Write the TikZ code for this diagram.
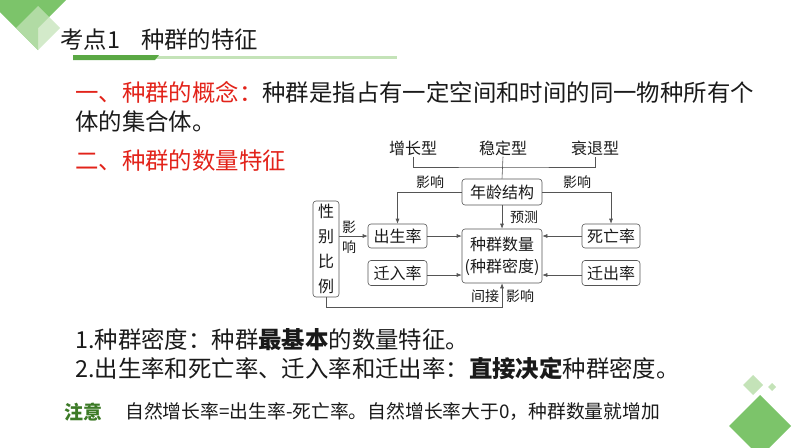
\documentclass[tikz,border=0pt]{standalone}
\usepackage{fontspec}
\setmainfont{Noto Sans CJK SC}
\usetikzlibrary{arrows.meta,positioning,calc}
\definecolor{ink}{HTML}{1A1A1A}
\definecolor{wire}{HTML}{555555}
\definecolor{redtxt}{HTML}{E2231A}
\definecolor{gdark}{HTML}{5AA844}
\definecolor{gmid}{HTML}{7CC46A}
\definecolor{glight}{HTML}{C4E3B8}
\definecolor{gnote}{HTML}{3C7A26}

\begin{document}
\begin{tikzpicture}[
  x=1pt, y=-1pt, ink,
  big/.style={font=\fontsize{23.4}{28}\selectfont, inner sep=0pt, anchor=west},
  mid/.style={font=\fontsize{23.4}{28}\selectfont, inner sep=0pt, anchor=west},
  box/.style={draw=wire, line width=0.6pt, rounded corners=3pt, inner sep=0pt,
              font=\fontsize{16}{18}\selectfont, align=center},
  word/.style={font=\fontsize{16}{18}\selectfont, inner sep=1pt},
  tag/.style={font=\fontsize{14}{16}\selectfont, inner sep=0pt, align=center},
  wr/.style={draw=wire, line width=0.6pt},
  arr/.style={-{Latex[length=5pt,width=4pt]}, draw=wire, line width=0.6pt},
]
\useasboundingbox (0,0) rectangle (794,447);
\clip (0,0) rectangle (794,447);

% ---- corner ornaments -------------------------------------------------------
\fill[gmid] (0,0) -- (66,0) -- (38,28) -- (38,50) -- (0,12) -- cycle;
\fill[glight, opacity=0.75] (38,6) -- (60,28) -- (38,50) -- (16,28) -- cycle;
\fill[gmid] (760,395) -- (791,426) -- (760,457) -- (729,426) -- cycle;
\fill[glight] (753,375) -- (763,385) -- (753,395) -- (743,385) -- cycle;
\fill[glight] (772,383) -- (776,387) -- (772,391) -- (768,387) -- cycle;

% ---- title ------------------------------------------------------------------
\node[big] (title) at (60,40) {考点1\hspace{0.9em}种群的特征};
\fill[glight] (156,55.5) rectangle (397,59);
\fill[gdark] (73,55) -- (159,55) -- (155,60) -- (73,60) -- cycle;

% ---- text -------------------------------------------------------------------
\node[big] (def1) at (75,92)
  {{\color{redtxt}一、种群的概念：}种群是指占有一定空间和时间的同一物种所有个};
\node[big] (def2) at (75,122) {体的集合体。};
\node[big, text=redtxt] (sec2) at (75,161) {二、种群的数量特征};

% ---- diagram ----------------------------------------------------------------
\node[word] (grow) at (413,148) {增长型};
\node[word] (stab) at (503,148) {稳定型};
\node[word] (decl) at (595,148) {衰退型};

\node[box, minimum width=80pt, minimum height=26pt] (age) at (502,192) {年龄结构};
\node[box, minimum width=80pt, minimum height=54pt] (pop) at (502,256)
  {种群数量\\[4pt](种群密度)};
\node[box, minimum width=59pt, minimum height=24pt] (birth) at (397.5,236) {出生率};
\node[box, minimum width=59pt, minimum height=25pt] (immig) at (397.5,273) {迁入率};
\node[box, minimum width=58pt, minimum height=24pt] (death) at (611,236) {死亡率};
\node[box, minimum width=58pt, minimum height=25pt] (emig) at (611,273) {迁出率};
\node[box, minimum width=26pt, minimum height=96pt,
      font=\fontsize{16}{25}\selectfont] (sex) at (326,249) {性\\别\\比\\例};

\coordinate (brk) at (503,167);
\draw[wr] (grow.south) |- (brk) -| (decl.south);
\draw[wr] (stab.south) -- (age.north);

\draw[arr] (age.west) -| (birth.north);
\node[tag] (inf1) at (430,182) {影响};
\draw[arr] (age.east) -| (death.north);
\node[tag] (inf2) at (577,182) {影响};
\draw[arr] (age.south) -- (pop.north);
\node[tag] (pred) at (524,217) {预测};

\draw[arr] (sex.east |- birth) -- (birth.west);
\node[tag, font=\fontsize{14}{20}\selectfont] (inf3) at (349,237) {影\\响};

\draw[arr] (birth.east) -- (birth.east -| pop.west);
\draw[arr] ([yshift=-2pt]immig.east) -- ([yshift=-2pt]immig.east -| pop.west);
\draw[arr] (death.west) -- (death.west -| pop.east);
\draw[arr] ([yshift=-2pt]emig.west) -- ([yshift=-2pt]emig.west -| pop.east);

\coordinate (bot) at (502,307);
\draw[arr] (sex.south) |- (bot) -- (pop.south);
\node[tag] (ind1) at (485,296) {间接};
\node[tag] (ind2) at (520,296) {影响};

% ---- points -----------------------------------------------------------------
\node[mid] (pt1) at (75,340) {1.种群密度：种群\textbf{最基本}的数量特征。};
\node[mid] (pt2) at (75,368)
  {2.出生率和死亡率、迁入率和迁出率：\textbf{直接决定}种群密度。};

% ---- note -------------------------------------------------------------------
\node[inner sep=0pt, anchor=west, text=gnote, font=\fontsize{19}{22}\selectfont\bfseries]
  (note) at (64,412) {注意};
\node[inner sep=0pt, anchor=west, font=\fontsize{18.8}{22}\selectfont]
  (rule) at (125,412) {自然增长率=出生率-死亡率。自然增长率大于0，种群数量就增加};

\end{tikzpicture}
\end{document}
